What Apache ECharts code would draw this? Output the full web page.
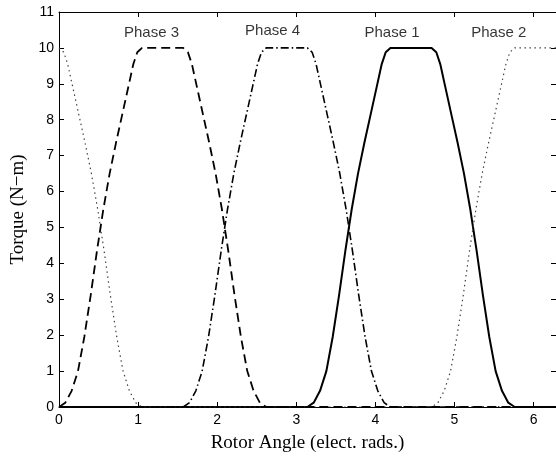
<!DOCTYPE html>
<html>
<head>
<meta charset="utf-8">
<script src="https://cdn.jsdelivr.net/npm/echarts@6/dist/echarts.min.js"></script>
<style>
  html, body { margin: 0; padding: 0; background: #fff; }
  #chart { width: 556px; height: 461px; }
</style>
</head>
<body>
<div id="chart"></div>
<script>
// rotor angle / torque pairs, one set per phase
var phase1Angle = [0, 3.14, 3.22, 3.30, 3.38, 3.46, 3.54, 3.62, 3.70, 3.78, 3.86, 3.94, 4.02, 4.08, 4.13, 4.19,
                   4.71, 4.77, 4.82, 4.88, 4.96, 5.04, 5.12, 5.20, 5.28, 5.36, 5.44, 5.52, 5.60, 5.68, 5.76, 6.2832];
var phase1Torque = [0, 0, 0.12, 0.45, 1.0, 1.95, 3.1, 4.35, 5.5, 6.5, 7.35, 8.15, 8.95, 9.55, 9.88, 10,
                    10, 9.88, 9.55, 8.95, 8.15, 7.35, 6.5, 5.5, 4.35, 3.1, 1.95, 1.0, 0.45, 0.12, 0, 0];

var phase2Angle = [0, 0.06, 0.11, 0.17, 0.25, 0.33, 0.41, 0.49, 0.57, 0.65, 0.73, 0.81, 0.89, 0.97, 1.05,
                   4.71, 4.79, 4.87, 4.95, 5.03, 5.11, 5.19, 5.27, 5.35, 5.43, 5.51, 5.59, 5.65, 5.70, 5.76, 6.2832];
var phase2Torque = [10, 9.88, 9.55, 8.95, 8.15, 7.35, 6.5, 5.5, 4.35, 3.1, 1.95, 1.0, 0.45, 0.12, 0,
                    0, 0.12, 0.45, 1.0, 1.95, 3.1, 4.35, 5.5, 6.5, 7.35, 8.15, 8.95, 9.55, 9.88, 10, 10];

var phase3Angle = [0, 0.08, 0.16, 0.24, 0.32, 0.40, 0.48, 0.56, 0.64, 0.72, 0.80, 0.88, 0.94, 0.99, 1.05,
                   1.57, 1.63, 1.68, 1.74, 1.82, 1.90, 1.98, 2.06, 2.14, 2.22, 2.30, 2.38, 2.46, 2.54, 2.62, 6.2832];
var phase3Torque = [0, 0.12, 0.45, 1.0, 1.95, 3.1, 4.35, 5.5, 6.5, 7.35, 8.15, 8.95, 9.55, 9.88, 10,
                    10, 9.88, 9.55, 8.95, 8.15, 7.35, 6.5, 5.5, 4.35, 3.1, 1.95, 1.0, 0.45, 0.12, 0, 0];

var phase4Angle = [0, 1.57, 1.65, 1.73, 1.81, 1.89, 1.97, 2.05, 2.13, 2.21, 2.29, 2.37, 2.45, 2.51, 2.56, 2.62,
                   3.14, 3.20, 3.25, 3.31, 3.39, 3.47, 3.55, 3.63, 3.71, 3.79, 3.87, 3.95, 4.03, 4.11, 4.19, 6.2832];
var phase4Torque = [0, 0, 0.12, 0.45, 1.0, 1.95, 3.1, 4.35, 5.5, 6.5, 7.35, 8.15, 8.95, 9.55, 9.88, 10,
                    10, 9.88, 9.55, 8.95, 8.15, 7.35, 6.5, 5.5, 4.35, 3.1, 1.95, 1.0, 0.45, 0.12, 0, 0];

// curve labels
var labelNames = ['Phase 3', 'Phase 4', 'Phase 1', 'Phase 2'];
var labelX = [1.17, 2.70, 4.21, 5.56];
var labelY = [10.42, 10.48, 10.42, 10.42];

function pairs(xs, ys) {
  var out = [];
  for (var i = 0; i < xs.length; i++) {
    out.push([xs[i], ys[i]]);
  }
  return out;
}

var labelData = [];
for (var i = 0; i < labelNames.length; i++) {
  labelData.push({ name: labelNames[i], value: [labelX[i], labelY[i]] });
}

var tickFont = { color: '#000', fontFamily: 'Liberation Sans, Arial, sans-serif', fontSize: 14 };

var chart = echarts.init(document.getElementById('chart'), null, { renderer: 'canvas' });

chart.setOption({
  animation: false,
  backgroundColor: '#fff',
  grid: { left: 59, top: 12, right: -3, bottom: 54 },
  xAxis: [{
    type: 'value',
    min: 0,
    max: 6.2832,
    interval: 1,
    name: 'Rotor Angle (elect. rads.)',
    nameLocation: 'middle',
    nameGap: 27,
    nameTextStyle: { color: '#000', fontFamily: 'Liberation Serif, Times New Roman, serif', fontSize: 19 },
    axisLine: { onZero: false, lineStyle: { color: '#000', width: 1 } },
    axisTick: { inside: true, length: 5, lineStyle: { color: '#000' } },
    axisLabel: Object.assign({ margin: 6, showMaxLabel: false }, tickFont),
    splitLine: { show: false }
  }, {
    type: 'value',
    position: 'top',
    min: 0,
    max: 6.2832,
    interval: 1,
    axisLine: { onZero: false, lineStyle: { color: '#000', width: 1 } },
    axisTick: { inside: true, length: 5, lineStyle: { color: '#000' } },
    axisLabel: { show: false },
    splitLine: { show: false }
  }],
  yAxis: [{
    type: 'value',
    min: 0,
    max: 11,
    interval: 1,
    name: 'Torque (N\u2212m)',
    nameLocation: 'middle',
    nameGap: 30,
    nameTextStyle: { color: '#000', fontFamily: 'Liberation Serif, Times New Roman, serif', fontSize: 19 },
    axisLine: { onZero: false, lineStyle: { color: '#000', width: 1 } },
    axisTick: { inside: true, length: 5, lineStyle: { color: '#000' } },
    axisLabel: Object.assign({ margin: 5 }, tickFont),
    splitLine: { show: false }
  }, {
    type: 'value',
    position: 'right',
    min: 0,
    max: 11,
    interval: 1,
    axisLine: { onZero: false, lineStyle: { color: '#000', width: 1 } },
    axisTick: { inside: true, length: 5, lineStyle: { color: '#000' } },
    axisLabel: { show: false },
    splitLine: { show: false }
  }],
  series: [{
    name: 'Phase 1',
    type: 'line',
    data: pairs(phase1Angle, phase1Torque),
    showSymbol: false,
    lineStyle: { color: '#000', width: 2, type: 'solid', join: 'round' }
  }, {
    name: 'Phase 2',
    type: 'line',
    data: pairs(phase2Angle, phase2Torque),
    showSymbol: false,
    lineStyle: { color: '#444', width: 1.2, type: [1.5, 3.5] }
  }, {
    name: 'Phase 3',
    type: 'line',
    data: pairs(phase3Angle, phase3Torque),
    showSymbol: false,
    lineStyle: { color: '#000', width: 1.8, type: [9, 5] }
  }, {
    name: 'Phase 4',
    type: 'line',
    data: pairs(phase4Angle, phase4Torque),
    showSymbol: false,
    lineStyle: { color: '#000', width: 1.6, type: [8, 3, 1.5, 3] }
  }, {
    name: 'labels',
    type: 'scatter',
    data: labelData,
    symbolSize: 0,
    label: {
      show: true,
      position: 'inside',
      formatter: '{b}',
      color: '#000',
      fontFamily: 'Liberation Sans, Arial, sans-serif',
      fontSize: 15
    }
  }]
});
</script>
</body>
</html>
